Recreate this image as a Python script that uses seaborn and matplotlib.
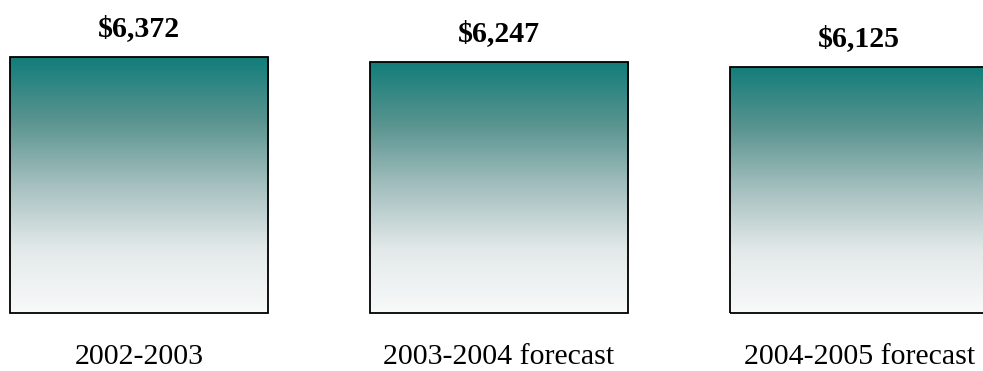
import numpy as np
import pandas as pd
import matplotlib
matplotlib.use("Agg")
import matplotlib.pyplot as plt
from matplotlib.colors import LinearSegmentedColormap
import seaborn as sns

# Spending per period (dollars)
periods = ["2002-2003", "2003-2004 forecast", "2004-2005 forecast"]
amounts = [6372, 6247, 6125]

sns.set_theme(style="white")
plt.rcParams["font.family"] = ["Liberation Serif", "DejaVu Serif"]

fig = plt.figure(figsize=(9.83, 3.71), dpi=100)
ax = fig.add_axes([0, 0, 1, 1])

df = pd.DataFrame({"period": periods, "amount": amounts})
sns.barplot(data=df, x="period", y="amount", ax=ax, width=0.717,
            fill=False, color="black", linewidth=1.3, errorbar=None)

# Vertical teal-to-white fade inside each bar
fade = LinearSegmentedColormap.from_list(
    "teal_fade",
    [(0.0, "#f9fafa"), (0.25, "#e3e9e9"), (0.5, "#a5c0bf"),
     (0.75, "#5a9490"), (1.0, "#127d7a")],
)
grad = np.linspace(0, 1, 256).reshape(-1, 1)
for patch in list(ax.patches):
    x0, y0 = patch.get_x(), patch.get_y()
    w, h = patch.get_width(), patch.get_height()
    im = ax.imshow(grad, cmap=fade, extent=[x0, x0 + w, y0, y0 + h],
                   origin="lower", aspect="auto", interpolation="bilinear",
                   zorder=patch.get_zorder() - 0.5)
    im.set_clip_path(patch)

# Value labels above bars, period labels below
for i, (p, v) in enumerate(zip(periods, amounts)):
    ax.annotate(f"${v:,}", xy=(i, v), xytext=(0, 15), textcoords="offset points",
                ha="center", va="baseline", fontsize=21.5, fontweight="bold",
                color="black")
    ax.annotate(p, xy=(i, 0), xytext=(0, -36.5), textcoords="offset points",
                ha="center", va="baseline", fontsize=21.5, color="black",
                annotation_clip=False)

ax.set_xlim(-0.386, 2.344)
ax.set_ylim(-1444, 7791)
ax.axis("off")

fig.savefig("out.png", dpi=100, facecolor="white")
